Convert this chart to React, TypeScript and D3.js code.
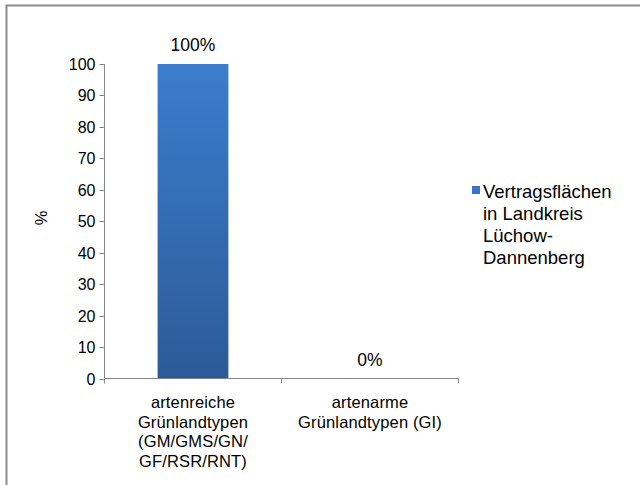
import React from "react";
import * as d3 from "d3";

const categories = [
  ["artenreiche", "Grünlandtypen", "(GM/GMS/GN/", "GF/RSR/RNT)"],
  ["artenarme", "Grünlandtypen (GI)"],
];
const values = [100, 0];
const valueLabels = ["100%", "0%"];
const yTicks = [0, 10, 20, 30, 40, 50, 60, 70, 80, 90, 100];
const seriesName = ["Vertragsflächen", "in Landkreis", "Lüchow-", "Dannenberg"];
const yTitle = "%";

const W = 640;
const H = 485;
const FONT = "'Liberation Sans', Arial, sans-serif";

export default function App() {
  const x0 = 104.5;
  const x1 = 458.5;
  const yTop = 64;
  const yBot = 378.5;
  const x = d3.scaleBand<number>().domain([0, 1]).range([x0, x1]).paddingInner(0).paddingOuter(0);
  const y = d3.scaleLinear().domain([0, 100]).range([yBot, yTop]);
  const bw = x.bandwidth() / 2.5;

  return (
    <svg width={W} height={H} style={{ position: "absolute", left: 0, top: 0 }} fontFamily={FONT}>
      <defs>
        <linearGradient id="barGrad" x1="0" y1="0" x2="0" y2="1">
          <stop offset="0%" stopColor="#3B7DCD" />
          <stop offset="100%" stopColor="#2C5B97" />
        </linearGradient>
      </defs>
      <rect x={0} y={0} width={W} height={H} fill="#fff" />
      <rect x={6.5} y={5.5} width={W + 10} height={H + 10} fill="none" stroke="#8c8c8c" strokeWidth={2} />

      {/* bars */}
      {values.map((v, i) => {
        const cx = (x(i) as number) + x.bandwidth() / 2;
        return (
          <g key={i}>
            <rect x={cx - bw / 2} y={y(v)} width={bw} height={yBot - y(v)} fill="url(#barGrad)" />
            <text x={cx} y={y(v) - 13} textAnchor="middle" fontSize={17.5} fill="#000">
              {valueLabels[i]}
            </text>
          </g>
        );
      })}

      {/* y axis */}
      <line x1={x0} x2={x0} y1={yTop} y2={yBot} stroke="#868686" strokeWidth={1} />
      {yTicks.map((t) => (
        <g key={t}>
          <line x1={x0 - 5} x2={x0} y1={Math.round(y(t)) + 0.5} y2={Math.round(y(t)) + 0.5} stroke="#868686" />
          <text x={x0 - 9} y={y(t) + 6} textAnchor="end" fontSize={16} fill="#000">
            {t}
          </text>
        </g>
      ))}
      {/* x axis */}
      <line x1={x0} x2={x1} y1={yBot} y2={yBot} stroke="#868686" />
      {[0, 1, 2].map((i) => {
        const xx = i < 2 ? (x(i) as number) : x1;
        return <line key={i} x1={xx} x2={xx} y1={yBot} y2={yBot + 5} stroke="#868686" />;
      })}
      {categories.map((lines, i) => {
        const cx = (x(i) as number) + x.bandwidth() / 2;
        return (
          <text key={i} textAnchor="middle" fontSize={16.5} letterSpacing={0.15} fill="#000">
            {lines.map((l, j) => (
              <tspan key={j} x={cx} y={408 + j * 19.7}>
                {l}
              </tspan>
            ))}
          </text>
        );
      })}

      {/* y title */}
      <text transform={`translate(47,218) rotate(-90)`} textAnchor="middle" fontSize={16.5} fill="#000">
        {yTitle}
      </text>

      {/* legend */}
      <rect x={472} y={186} width={8} height={8} fill="#3A72C0" />
      <text fontSize={18.5} fill="#000">
        {seriesName.map((l, j) => (
          <tspan key={j} x={483} y={197.5 + j * 22.3}>
            {l}
          </tspan>
        ))}
      </text>
    </svg>
  );
}
